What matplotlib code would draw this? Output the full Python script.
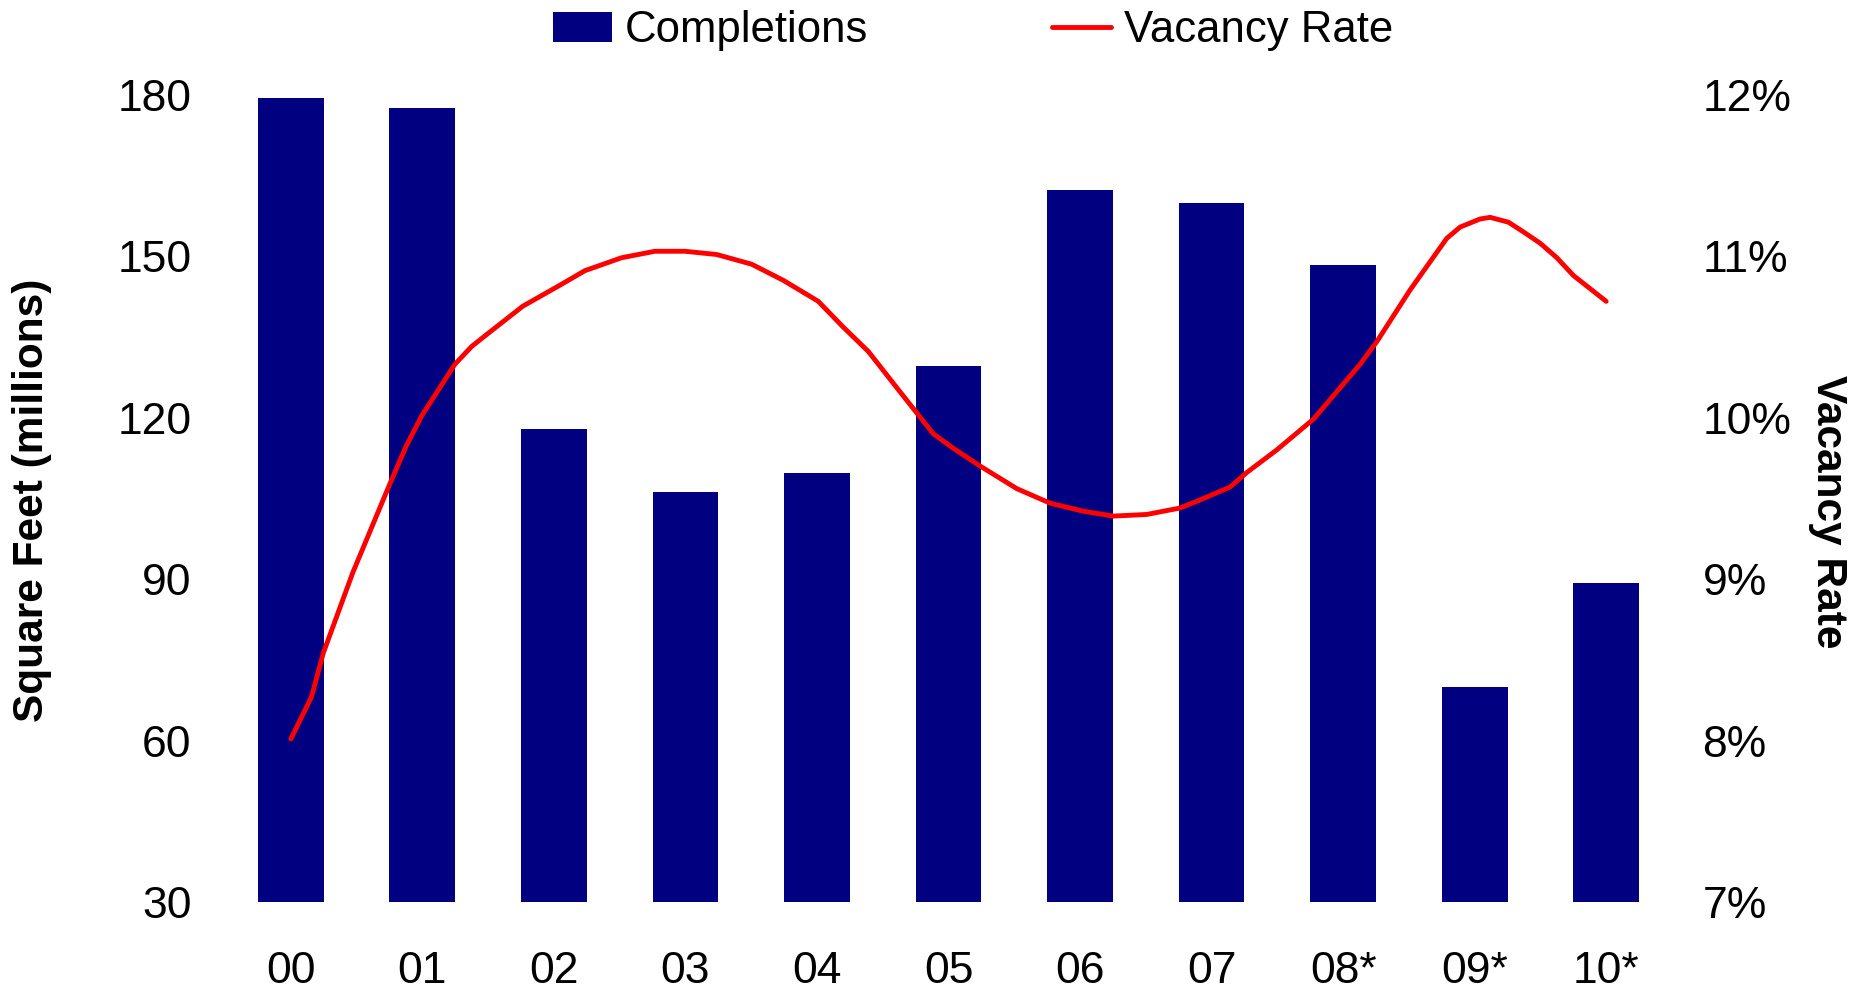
import matplotlib.pyplot as plt
from matplotlib.ticker import FuncFormatter

plt.rcParams['font.family'] = ['Liberation Sans', 'DejaVu Sans']

years = ['00', '01', '02', '03', '04', '05', '06', '07', '08*', '09*', '10*']
completions = [179.4, 177.5, 117.8, 106.2, 109.7, 129.5, 162.2, 159.8, 148.4, 70.0, 89.3]

# vacancy rate (time in years from 2000)
vac_t = [0.0, 0.157, 0.246, 0.471, 0.753, 0.875, 0.994, 1.247, 1.374, 1.513,
         1.764, 2.046, 2.236, 2.515, 2.768, 2.996, 3.237, 3.503, 3.744, 4.01,
         4.2, 4.39, 4.631, 4.884, 5.036, 5.24, 5.519, 5.772, 6.025, 6.253,
         6.507, 6.76, 6.913, 7.141, 7.268, 7.496, 7.774, 8.129, 8.256, 8.509,
         8.788, 8.89, 9.042, 9.118, 9.257, 9.371, 9.498, 9.625, 9.751, 10.0]
vac_rate = [8.01, 8.27, 8.54, 9.04, 9.59, 9.82, 10.01, 10.33, 10.44, 10.53,
            10.69, 10.82, 10.91, 10.99, 11.03, 11.03, 11.01, 10.95, 10.85, 10.72,
            10.56, 10.41, 10.16, 9.90, 9.81, 9.70, 9.56, 9.47, 9.42, 9.39,
            9.40, 9.44, 9.49, 9.57, 9.66, 9.80, 9.99, 10.33, 10.47, 10.79,
            11.11, 11.18, 11.23, 11.24, 11.21, 11.15, 11.08, 10.99, 10.88, 10.72]

fig = plt.figure(figsize=(18.54, 9.9), dpi=100)
ax = fig.add_axes([0.1214, 0.0889, 0.7804, 0.8155])

x = list(range(len(years)))
bars = ax.bar(x, completions, width=0.5, color='#000080', label='Completions')
ax.set_xlim(-0.5, len(years) - 0.5)
ax.set_ylim(30, 180)
ax.set_yticks([30, 60, 90, 120, 150, 180])
ax.set_xticks(x)
ax.set_xticklabels(years)
ax.tick_params(axis='x', length=0, pad=35, labelsize=32)
ax.tick_params(axis='y', length=0, pad=24, labelsize=32)
for s in ax.spines.values():
    s.set_visible(False)

ax2 = ax.twinx()
line, = ax2.plot(vac_t, vac_rate, color='#ff0000', lw=3.5, label='Vacancy Rate',
                 solid_capstyle='round')
ax2.set_ylim(7, 12)
ax2.set_yticks([7, 8, 9, 10, 11, 12])
ax2.yaxis.set_major_formatter(FuncFormatter(lambda v, p: '%d%%' % v))
ax2.tick_params(axis='y', length=0, pad=22, labelsize=32)
for s in ax2.spines.values():
    s.set_visible(False)

fig.text(0.0173, 0.495, 'Square Feet (millions)', rotation=90, ha='center',
         va='center', fontsize=30.5, fontweight='bold')
fig.text(0.986, 0.483, 'Vacancy Rate', rotation=270, ha='center',
         va='center', fontsize=30.5, fontweight='bold')

fig.legend([bars, line], ['Completions', 'Vacancy Rate'], loc='center',
           bbox_to_anchor=(0.525, 0.969), ncol=2, frameon=False, fontsize=31.5,
           handlelength=1.35, handleheight=0.7, handletextpad=0.3,
           columnspacing=4.2)

fig.savefig('out.png', dpi=100)
